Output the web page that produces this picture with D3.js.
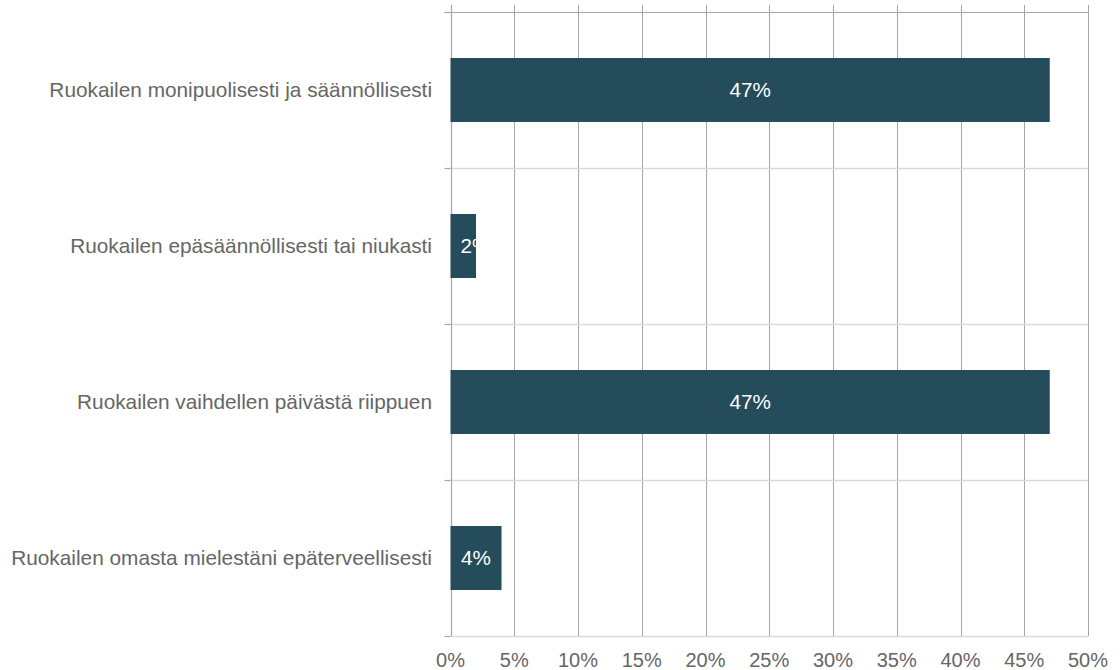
<!DOCTYPE html>
<html>
<head>
<meta charset="utf-8">
<script src="https://cdn.jsdelivr.net/npm/d3@7"></script>
<style>
  html, body { margin: 0; padding: 0; background: #ffffff; }
  svg { display: block; font-family: "Liberation Sans", Arial, sans-serif; }
</style>
</head>
<body>
<svg id="chart" width="1120" height="670"></svg>
<script>
// Survey answers: how respondents describe their eating habits (share of answers, %)
const categories = [
  "Ruokailen monipuolisesti ja säännöllisesti",
  "Ruokailen epäsäännöllisesti tai niukasti",
  "Ruokailen vaihdellen päivästä riippuen",
  "Ruokailen omasta mielestäni epäterveellisesti"
];
const values = [47, 2, 47, 4];
const tickValues = [0, 5, 10, 15, 20, 25, 30, 35, 40, 45, 50];

const W = 1120, H = 670;
const margin = { top: 12, right: 32, bottom: 34, left: 450.5 };
const svg = d3.select("#chart");

const x = d3.scaleLinear().domain([0, 50]).range([margin.left, W - margin.right]);
const y = d3.scaleBand().domain(categories).range([margin.top, H - margin.bottom]).paddingInner(0.59).paddingOuter(0.295);
const band = d3.scaleBand().domain(categories).range([margin.top, H - margin.bottom]);

const barColor = "#244c5a";
const gridColor = "#a6a6a6";
const lightColor = "#d9d9d9";
const textColor = "#666666";

// vertical gridlines
svg.append("g")
  .selectAll("line")
  .data(tickValues)
  .join("line")
  .attr("x1", d => Math.round(x(d)) + 0.5)
  .attr("x2", d => Math.round(x(d)) + 0.5)
  .attr("y1", 5)
  .attr("y2", H - margin.bottom)
  .attr("stroke", gridColor)
  .attr("stroke-width", 1);

// category separators
const bounds = categories.slice(1).map(c => band(c));
svg.append("g")
  .selectAll("line")
  .data(bounds)
  .join("line")
  .attr("x1", margin.left)
  .attr("x2", x(50))
  .attr("y1", d => Math.round(d) + 0.5)
  .attr("y2", d => Math.round(d) + 0.5)
  .attr("stroke", lightColor)
  .attr("stroke-width", 1.5);

// top frame line
svg.append("line")
  .attr("x1", margin.left - 6).attr("x2", x(50) + 0.5)
  .attr("y1", margin.top + 0.5).attr("y2", margin.top + 0.5)
  .attr("stroke", gridColor).attr("stroke-width", 1.2);

// bottom axis line
svg.append("line")
  .attr("x1", margin.left).attr("x2", x(50) + 0.5)
  .attr("y1", H - margin.bottom + 0.5).attr("y2", H - margin.bottom + 0.5)
  .attr("stroke", lightColor).attr("stroke-width", 1.5);

// left axis with ticks at category boundaries
const tickYs = [margin.top, ...bounds, H - margin.bottom];
svg.append("line")
  .attr("x1", Math.round(margin.left) + 0.5).attr("x2", Math.round(margin.left) + 0.5)
  .attr("y1", 5).attr("y2", H - margin.bottom)
  .attr("stroke", gridColor).attr("stroke-width", 1.2);
svg.append("g")
  .selectAll("line")
  .data(tickYs)
  .join("line")
  .attr("x1", margin.left - 6).attr("x2", margin.left)
  .attr("y1", d => Math.round(d) + 0.5)
  .attr("y2", d => Math.round(d) + 0.5)
  .attr("stroke", gridColor).attr("stroke-width", 1.2);

// category labels
svg.append("g")
  .selectAll("text")
  .data(categories)
  .join("text")
  .attr("x", 432)
  .attr("y", d => band(d) + band.bandwidth() / 2)
  .attr("dy", "0.35em")
  .attr("text-anchor", "end")
  .attr("fill", textColor)
  .attr("font-size", 20.8)
  .text(d => d);

// bottom tick labels
svg.append("g")
  .selectAll("text")
  .data(tickValues)
  .join("text")
  .attr("x", d => x(d))
  .attr("y", 660)
  .attr("dy", "0.35em")
  .attr("text-anchor", "middle")
  .attr("fill", textColor)
  .attr("font-size", 20)
  .text(d => d + "%");

// bars
const rows = categories.map((c, i) => ({ c, v: values[i], i }));
const defs = svg.append("defs");
defs.selectAll("clipPath")
  .data(rows)
  .join("clipPath")
  .attr("id", d => "clip" + d.i)
  .append("rect")
  .attr("x", x(0))
  .attr("y", d => y(d.c))
  .attr("width", d => x(d.v) - x(0))
  .attr("height", y.bandwidth());

svg.append("g")
  .selectAll("rect")
  .data(rows)
  .join("rect")
  .attr("x", x(0))
  .attr("y", d => y(d.c))
  .attr("width", d => x(d.v) - x(0))
  .attr("height", y.bandwidth())
  .attr("fill", barColor);

// value labels, clipped to each bar
const labels = svg.append("g")
  .selectAll("text")
  .data(rows)
  .join("text")
  .attr("clip-path", d => `url(#clip${d.i})`)
  .attr("y", d => y(d.c) + y.bandwidth() / 2)
  .attr("dy", "0.35em")
  .attr("fill", "#ffffff")
  .attr("font-size", 20.7)
  .text(d => d.v + "%");

labels.each(function (d) {
  const w = this.getComputedTextLength();
  const barW = x(d.v) - x(0);
  const t = d3.select(this);
  if (w + 20 > barW) {
    t.attr("x", x(0) + 10).attr("text-anchor", "start");
  } else {
    t.attr("x", x(0) + barW / 2).attr("text-anchor", "middle");
  }
});
</script>
</body>
</html>
